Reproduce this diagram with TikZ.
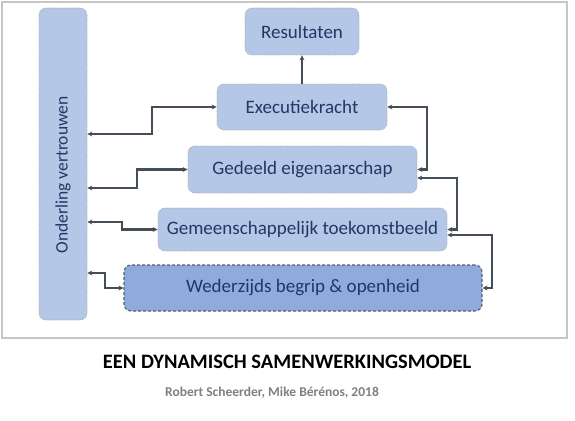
\documentclass[tikz,border=0pt]{standalone}
\usepackage{fontspec}
\setmainfont{Carlito}
\usepackage{tikz}
\usetikzlibrary{arrows.meta}

\definecolor{blokfill}{RGB}{181,199,231}
\definecolor{basisfill}{RGB}{143,170,220}
\definecolor{navy}{RGB}{32,56,100}
\definecolor{lijn}{RGB}{68,78,88}

\begin{document}
\begin{tikzpicture}[x=1pt,y=-1pt]
			\tikzset{blok/.style={shape = rectangle, rounded corners = 7pt, fill = blokfill,
					draw = gray!70, densely dotted, line width = 0.7pt, inner sep = 0pt,
					text = navy, font = \fontsize{19}{22}\selectfont}}
			\tikzset{basis/.style={blok, fill = basisfill, draw = lijn!90,
					dash pattern = on 3pt off 2pt, line width = 1.1pt}}
			\tikzset{pijl/.style={draw = lijn, line width = 2.2pt,
					{Stealth[length=5pt,width=5pt]}-{Stealth[length=5pt,width=5pt]}}}
			\tikzset{pijlop/.style={draw = lijn, line width = 2.2pt,
					-{Stealth[length=5pt,width=5pt]}}}
			\useasboundingbox (0,0) rectangle (575,420);
			%frame
			\draw[gray!45, line width = 1.2pt] (2,2) rectangle (567,338);
			%blocks
			\node[blok, rotate = 90, minimum width = 312pt, minimum height = 48pt,
				font = \fontsize{17.5}{20}\selectfont] (vertrouwen) at (63,164) {\hspace*{-22pt}Onderling vertrouwen};
			\node[blok, minimum width = 114pt, minimum height = 47pt] (res) at (302,31.5) {Resultaten};
			\node[blok, minimum width = 170pt, minimum height = 46pt] (exec) at (302,107) {Executiekracht};
			\node[blok, minimum width = 229pt, minimum height = 47pt] (gedeeld) at (302.5,169.5) {Gedeeld eigenaarschap};
			\node[blok, minimum width = 289pt, minimum height = 43pt] (gemeen) at (302.5,229.5) {Gemeenschappelijk toekomstbeeld};
			\node[basis, minimum width = 358pt, minimum height = 46pt] (weder) at (303,288) {Wederzijds begrip \& openheid};
			%left connectors
			\draw[pijl] (vertrouwen.south |- 0,134) -- ++(65,0) |- (exec.west);
			\draw[pijl] (vertrouwen.south |- 0,188) -- ++(50,0) |- (gedeeld.west);
			\draw[pijl] (vertrouwen.south |- 0,222) -- ++(35,0) |- (gemeen.west);
			\draw[pijl] (vertrouwen.south |- 0,273) -- ++(18,0) |- (weder.west);
			%right connectors
			\draw[pijl] (exec.east) -- ++(40,0) |- (gedeeld.east);
			\draw[pijl] ([yshift=-8.5pt]gedeeld.east) -- ++(40,0) |- (gemeen.east);
			\draw[pijl] ([yshift=-5.5pt]gemeen.east) -- ++(45,0) |- (weder.east);
			\draw[pijlop] (exec.north) -- (res.south);
			%captions
			\node[font = \fontsize{20.5}{24}\selectfont\bfseries] (titel) at (287,362) {EEN DYNAMISCH SAMENWERKINGSMODEL};
			\node[font = \fontsize{13.5}{16}\selectfont\bfseries, text = gray] (auteurs) at (272,393) {Robert Scheerder, Mike Bérénos, 2018};
\end{tikzpicture}
\end{document}
